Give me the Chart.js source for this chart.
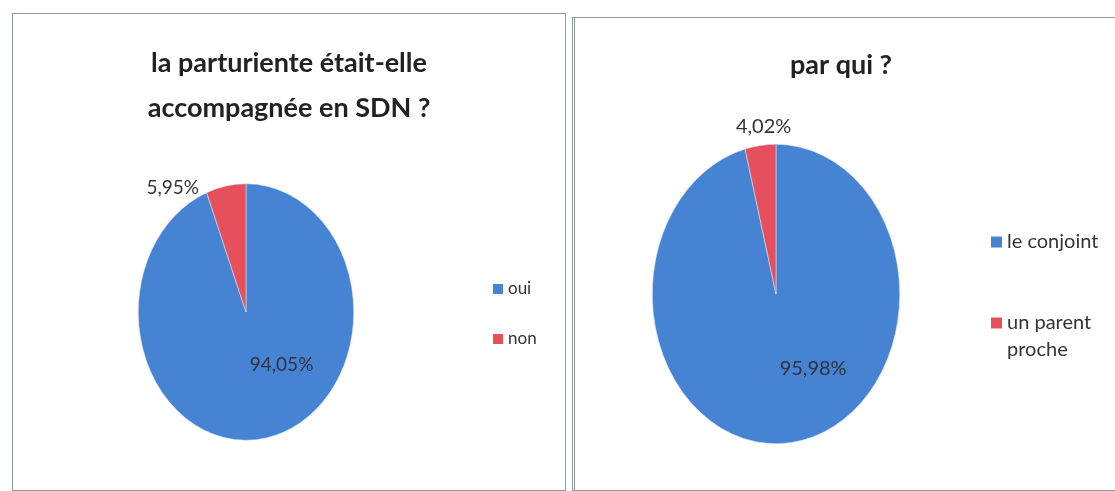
<!DOCTYPE html>
<html>
<head>
<meta charset="utf-8">
<script src="https://cdn.jsdelivr.net/npm/chart.js@4.4.1/dist/chart.umd.min.js"></script>
<style>
    body { margin: 0; width: 1115px; height: 491px; overflow: hidden; background: #fff; position: relative; }
    .box { position: absolute; border: 1px solid #8d9aa6; box-sizing: border-box; background: #fff; }
    #box1 { left: 12px; top: 13px; width: 554px; height: 478px; }
    #box2 { left: 572px; top: 17px; width: 560px; height: 474px; border-left: 3px double #8d9aa6; }
    canvas { display: block; }
</style>
</head>
<body>
<div class="box" id="box1"><canvas id="pie1" width="552" height="476"></canvas></div>
<div class="box" id="box2"><canvas id="pie2" width="556" height="472"></canvas></div>

<script>
// data
var labels1 = ["oui", "non"];
var values1 = [94.05, 5.95];
var labels2 = ["le conjoint", ["un parent", "proche"]];
var values2 = [95.98, 4.02];
var colors = ["#4683d2", "#e6505c"];

// draws the pie as an ellipse, plus titles, labels and legend like the excel one
var excelPie = {
    id: 'excelPie',
    beforeDatasetsDraw: function(chart) {
        var o = chart.options.plugins.excelPie;
        var arc = chart.getDatasetMeta(0).data[0];
        var ctx = chart.ctx;
        ctx.save();
        ctx.translate(arc.x, arc.y);
        ctx.scale(1, o.stretch);
        ctx.translate(-arc.x, -arc.y);
    },
    afterDatasetsDraw: function(chart) {
        var o = chart.options.plugins.excelPie;
        var ctx = chart.ctx;
        ctx.restore();
        var meta = chart.getDatasetMeta(0);
        var arc = meta.data[0];
        var r = arc.outerRadius;

        // title
        ctx.fillStyle = "#222";
        ctx.textAlign = "center";
        ctx.textBaseline = "middle";
        ctx.font = "bold 27px Lato";
        o.title.forEach(function(t, i) {
            ctx.fillText(t, o.titleX, o.titleY + i * 45);
        });

        // value labels
        ctx.font = o.labelFont;
        ctx.fillStyle = "#2e3440";
        var vals = chart.data.datasets[0].data;
        vals.forEach(function(v, i) {
            var p = o.labelPos[i];
            var txt = v.toFixed(2).replace(".", ",") + "%";
            ctx.fillText(txt, arc.x + p[0] * r, arc.y + p[1] * r * o.stretch);
        });

        // legend
        ctx.textAlign = "left";
        ctx.font = o.legendFont;
        chart.data.labels.forEach(function(l, i) {
            var y = o.legendY[i];
            ctx.fillStyle = colors[i];
            ctx.fillRect(o.legendX, y - o.box / 2, o.box, o.box);
            ctx.fillStyle = "#333";
            var lines = Array.isArray(l) ? l : [l];
            lines.forEach(function(s, j) {
                ctx.fillText(s, o.legendX + o.box + 5, y + j * 27);
            });
        });
    }
};

function pie(id, labs, vals, pad, extra) {
    var ctx = document.getElementById(id).getContext('2d');
    return new Chart(ctx, {
        type: 'pie',
        data: {
            labels: labs,
            datasets: [{
                data: vals,
                backgroundColor: colors,
                borderColor: "#dfe7f3",
                borderWidth: 0.5
            }]
        },
        options: {
            responsive: false,
            animation: false,
            layout: { padding: pad },
            plugins: {
                legend: { display: false },
                tooltip: { enabled: false },
                excelPie: extra
            }
        },
        plugins: [excelPie]
    });
}

pie("pie1", labels1, values1, { left: 125, right: 211, top: 190, bottom: 70 }, {
    stretch: 1.19,
    title: ["la parturiente était-elle", "accompagnée en SDN ?"],
    titleX: 276, titleY: 49,
    labelFont: "19px Lato",
    labelPos: [[0.33, 0.41], [-0.68, -0.97]],
    legendFont: "17px Lato", box: 10,
    legendX: 480, legendY: [275, 325]
});

pie("pie2", labels2, values2, { left: 77, right: 231, top: 152, bottom: 72 }, {
    stretch: 1.21,
    title: ["par qui ?"],
    titleX: 266, titleY: 47,
    labelFont: "20px Lato",
    labelPos: [[0.30, 0.50], [-0.10, -1.12]],
    legendFont: "20px Lato", box: 11,
    legendX: 416, legendY: [224, 305]
});
</script>
</body>
</html>
